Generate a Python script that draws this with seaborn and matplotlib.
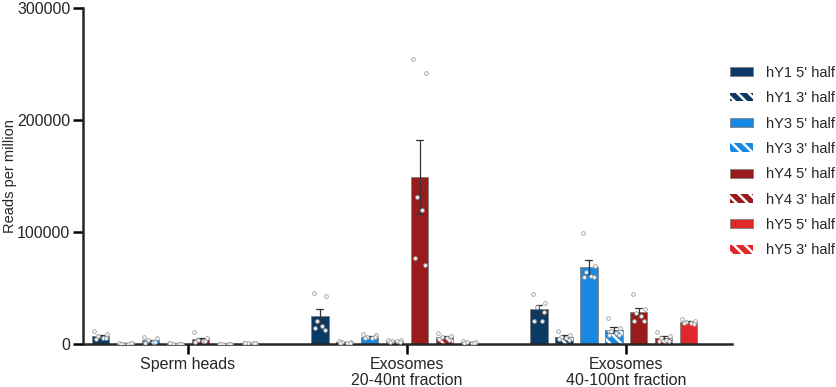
import pandas as pd
import matplotlib.pyplot as plt
import numpy as np
import seaborn as sns
from matplotlib.patches import Patch, Rectangle

groups = ["Sperm heads", "Exosomes\n20-40nt fraction", "Exosomes\n40-100nt fraction"]
series = ["hY1 5' half", "hY1 3' half", "hY3 5' half", "hY3 3' half",
          "hY4 5' half", "hY4 3' half", "hY5 5' half", "hY5 3' half"]
colors = ["#0b3a64", "#0b3a64", "#1789e2", "#1789e2",
          "#9a1b1b", "#9a1b1b", "#e0272a", "#e0272a"]
hatched = [False, True, False, True, False, True, False, True]

# replicate values per series, per group (reads per million)
sperm = [
    [11500, 9000, 7000, 5500, 4500, 5000],
    [600, 500, 400, 300, 400, 500],
    [6000, 5000, 3500, 2000, 1000, 1500],
    [500, 400, 300, 400, 500, 300],
    [10500, 5000, 4000, 3000, 2000, 2500],
    [400, 300, 200, 300, 400, 300],
    [900, 700, 500, 600, 800, 500],
    [],
]
exo_20_40 = [
    [46000, 42500, 21000, 16000, 14000, 12500],
    [2500, 2000, 1500, 1200, 1000, 800],
    [9000, 8000, 6500, 5500, 5000, 6000],
    [4000, 3500, 3000, 2500, 2000, 1500],
    [255000, 242000, 131000, 120000, 77000, 71000],
    [9500, 7500, 6500, 5000, 4500, 4000],
    [2800, 2000, 1500, 1000, 800, 700],
    [],
]
exo_40_100 = [
    [45000, 37000, 33000, 21000, 21000, 29000],
    [11500, 8000, 6500, 5000, 4500, 4000],
    [99000, 70000, 64000, 61000, 60000, 60000],
    [23000, 14000, 12000, 10000, 8000, 8000],
    [45000, 31000, 28000, 25000, 21000, 21000],
    [11000, 7000, 5000, 4000, 3000, 3000],
    [22000, 21000, 20000, 19000, 18500, 17500],
    [],
]

rows = []
for g, block in zip(groups, [sperm, exo_20_40, exo_40_100]):
    for s, vals in zip(series, block):
        for v in vals:
            rows.append((g, s, v))
df = pd.DataFrame(rows, columns=["group", "series", "rpm"])

sns.set_style("ticks")
plt.rcParams["font.family"] = ["Liberation Sans", "DejaVu Sans"]
plt.rcParams["hatch.linewidth"] = 1.8

fig = plt.figure(figsize=(8.37, 3.87), dpi=100)
ax = fig.add_axes([0.099, 0.111, 0.776, 0.868])

width = 0.91
n = len(series)
slot = width / n
sns.barplot(
    data=df, x="group", y="rpm", hue="series",
    order=groups, hue_order=series, palette=colors, saturation=1,
    width=width, gap=0.3, errorbar="se", capsize=0.25,
    err_kws={"color": "#333333", "linewidth": 0.9},
    edgecolor="#808080", linewidth=0.6, legend=False, ax=ax,
)

# hatch the 3' halves with white stripes, keep a grey outline
for p in list(ax.patches):
    if p.get_height() == 0 and p.get_width() == 0:
        continue
    cx = p.get_x() + p.get_width() / 2
    j = int(round((cx - round(cx)) / slot + (n - 1) / 2))
    if 0 <= j < n and hatched[j]:
        p.set_hatch("\\\\\\")
        p.set_edgecolor("white")
        p.set_linewidth(0)
        ax.add_patch(Rectangle((p.get_x(), p.get_y()), p.get_width(), p.get_height(),
                               fill=False, edgecolor="#808080", linewidth=0.6, zorder=p.get_zorder()))

# replicate points
offs = np.array([-0.25, 0.25, -0.1, 0.1, -0.2, 0.2]) * slot
for i, block in enumerate([sperm, exo_20_40, exo_40_100]):
    for j, vals in enumerate(block):
        if not vals:
            continue
        xc = i + (j - (n - 1) / 2) * slot
        ax.scatter(xc + offs[:len(vals)], vals, s=7, facecolor="white",
                   edgecolor="#9a9a9a", linewidth=0.6, zorder=5)

ax.set_ylim(0, 300000)
ax.set_yticks([0, 100000, 200000, 300000])
ax.set_xlim(-0.479, 2.484)
ax.set_xlabel("")
ax.set_ylabel("Reads per million", fontsize=10.5)
ax.yaxis.set_label_coords(-0.101, 0.5)
ax.tick_params(axis="both", width=1.8, length=7, labelsize=11.5, color="black")
ax.tick_params(axis="y", pad=2)
ax.tick_params(axis="x", pad=2)
for side in ["left", "bottom"]:
    ax.spines[side].set_linewidth(1.8)
sns.despine(ax=ax)
for t in ax.get_xticklabels():
    t.set_linespacing(1.1)

handles = []
for c, h in zip(colors, hatched):
    if h:
        handles.append(Patch(facecolor=c, edgecolor="white", hatch="\\\\\\", linewidth=0))
    else:
        handles.append(Patch(facecolor=c, edgecolor="#808080", linewidth=0.6))
ax.legend(handles, series, loc="upper left", bbox_to_anchor=(0.872, 0.83),
          bbox_transform=fig.transFigure, frameon=False, fontsize=10.5,
          handlelength=1.6, handleheight=0.55, handletextpad=0.9, labelspacing=0.78,
          borderpad=0, borderaxespad=0)

fig.savefig("out.png", dpi=100)
